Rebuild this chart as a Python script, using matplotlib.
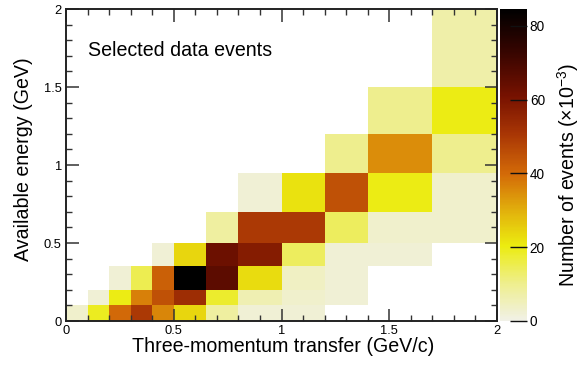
import numpy as np
import matplotlib
matplotlib.use("Agg")
import matplotlib.pyplot as plt
from matplotlib.colors import LinearSegmentedColormap

plt.rcParams['font.family'] = ['Liberation Sans', 'DejaVu Sans']
plt.rcParams['mathtext.fontset'] = 'custom'
plt.rcParams['mathtext.rm'] = 'Liberation Sans'
plt.rcParams['mathtext.it'] = 'Liberation Sans:italic'

# bin edges
x_edges = [0, 0.1, 0.2, 0.3, 0.4, 0.5, 0.65, 0.8, 1.0, 1.2, 1.4, 1.7, 2.0]
y_edges = [0, 0.1, 0.2, 0.35, 0.5, 0.7, 0.95, 1.2, 1.5, 2.0]

# events (x10^-3), rows = available-energy bins (bottom to top)
row_0 = [3, 19, 40, 50, 36, 24, 8, 2, 2, 0, 0, 0]
row_1 = [0, 2, 20, 37, 45, 53, 18, 6, 3, 2, 0, 0]
row_2 = [0, 0, 2, 15, 42, 85, 66, 23, 4, 2, 0, 0]
row_3 = [0, 0, 0, 0, 2, 24, 63, 58, 14, 2, 2, 0]
row_4 = [0, 0, 0, 0, 0, 0, 8, 50, 50, 14, 3, 3]
row_5 = [0, 0, 0, 0, 0, 0, 0, 2, 22, 45, 20, 3]
row_6 = [0, 0, 0, 0, 0, 0, 0, 0, 0, 10, 35, 10]
row_7 = [0, 0, 0, 0, 0, 0, 0, 0, 0, 0, 10, 20]
row_8 = [0, 0, 0, 0, 0, 0, 0, 0, 0, 0, 0, 7]

cbar_ticks = [0, 20, 40, 60, 80]
x_ticks = [0, 0.5, 1, 1.5, 2]
y_ticks = [0, 0.5, 1, 1.5, 2]
tick_labels = ["0", "0.5", "1", "1.5", "2"]

Z = np.array([row_0, row_1, row_2, row_3, row_4, row_5, row_6, row_7, row_8], dtype=float)
Zm = np.ma.masked_where(Z <= 0, Z)

vmax = 84.6
stops = [
    (0.00, (0.945, 0.945, 0.905)),
    (0.12, (0.935, 0.935, 0.55)),
    (0.24, (0.925, 0.925, 0.06)),
    (0.34, (0.89, 0.72, 0.05)),
    (0.47, (0.83, 0.42, 0.03)),
    (0.60, (0.66, 0.21, 0.02)),
    (0.72, (0.47, 0.07, 0.0)),
    (0.86, (0.22, 0.02, 0.0)),
    (1.00, (0.0, 0.0, 0.0)),
]
cmap = LinearSegmentedColormap.from_list("heat_inv", stops)
cmap.set_bad('white')

W, H = 582, 365
fig = plt.figure(figsize=(W/100, H/100), dpi=100)
ax = fig.add_axes([66/W, 44/H, 431/W, 312/H])
cax = fig.add_axes([500/W, 44/H, 27/W, 312/H])

mesh = ax.pcolormesh(x_edges, y_edges, Zm, cmap=cmap, vmin=0, vmax=vmax,
                     shading='flat', edgecolors='none')
ax.set_xlim(0, 2)
ax.set_ylim(0, 2)

ax.set_xticks(x_ticks)
ax.set_xticklabels(tick_labels)
ax.set_yticks(y_ticks)
ax.set_yticklabels(tick_labels)
ax.set_xticks(np.arange(0, 2.0001, 0.1), minor=True)
ax.set_yticks(np.arange(0, 2.0001, 0.1), minor=True)
ax.tick_params(which='both', direction='in', top=True, right=True, labelsize=9.3, color='#333333')
ax.tick_params(which='major', length=9, width=1.1)
ax.tick_params(which='minor', length=4.5, width=1.0)
ax.tick_params(axis='x', pad=2.6)
ax.tick_params(axis='y', pad=3)
for s in ax.spines.values():
    s.set_linewidth(1.4)
    s.set_color('#222222')

fig.text(283/W, 13/H, "Three-momentum transfer (GeV/c)", fontsize=14.1,
         ha='center', va='baseline')
fig.text(24/W, (H - 159)/H, "Available energy (GeV)", fontsize=14.1,
         rotation=90, ha='center', va='center')
ax.text(0.102, 1.70, "Selected data events", fontsize=14.1, ha='left', va='baseline')

cb = fig.colorbar(mesh, cax=cax)
cb.set_ticks(cbar_ticks)
cb.ax.tick_params(direction='in', length=12, width=1.0, labelsize=9.8, color='#111111', pad=2)
cb.outline.set_visible(False)
fig.text(568/W, (H - 175)/H, r"Number of events ($\times$10$^{-3}$)", fontsize=14.1,
         rotation=90, ha='center', va='center')

fig.savefig("out.png", dpi=100)
